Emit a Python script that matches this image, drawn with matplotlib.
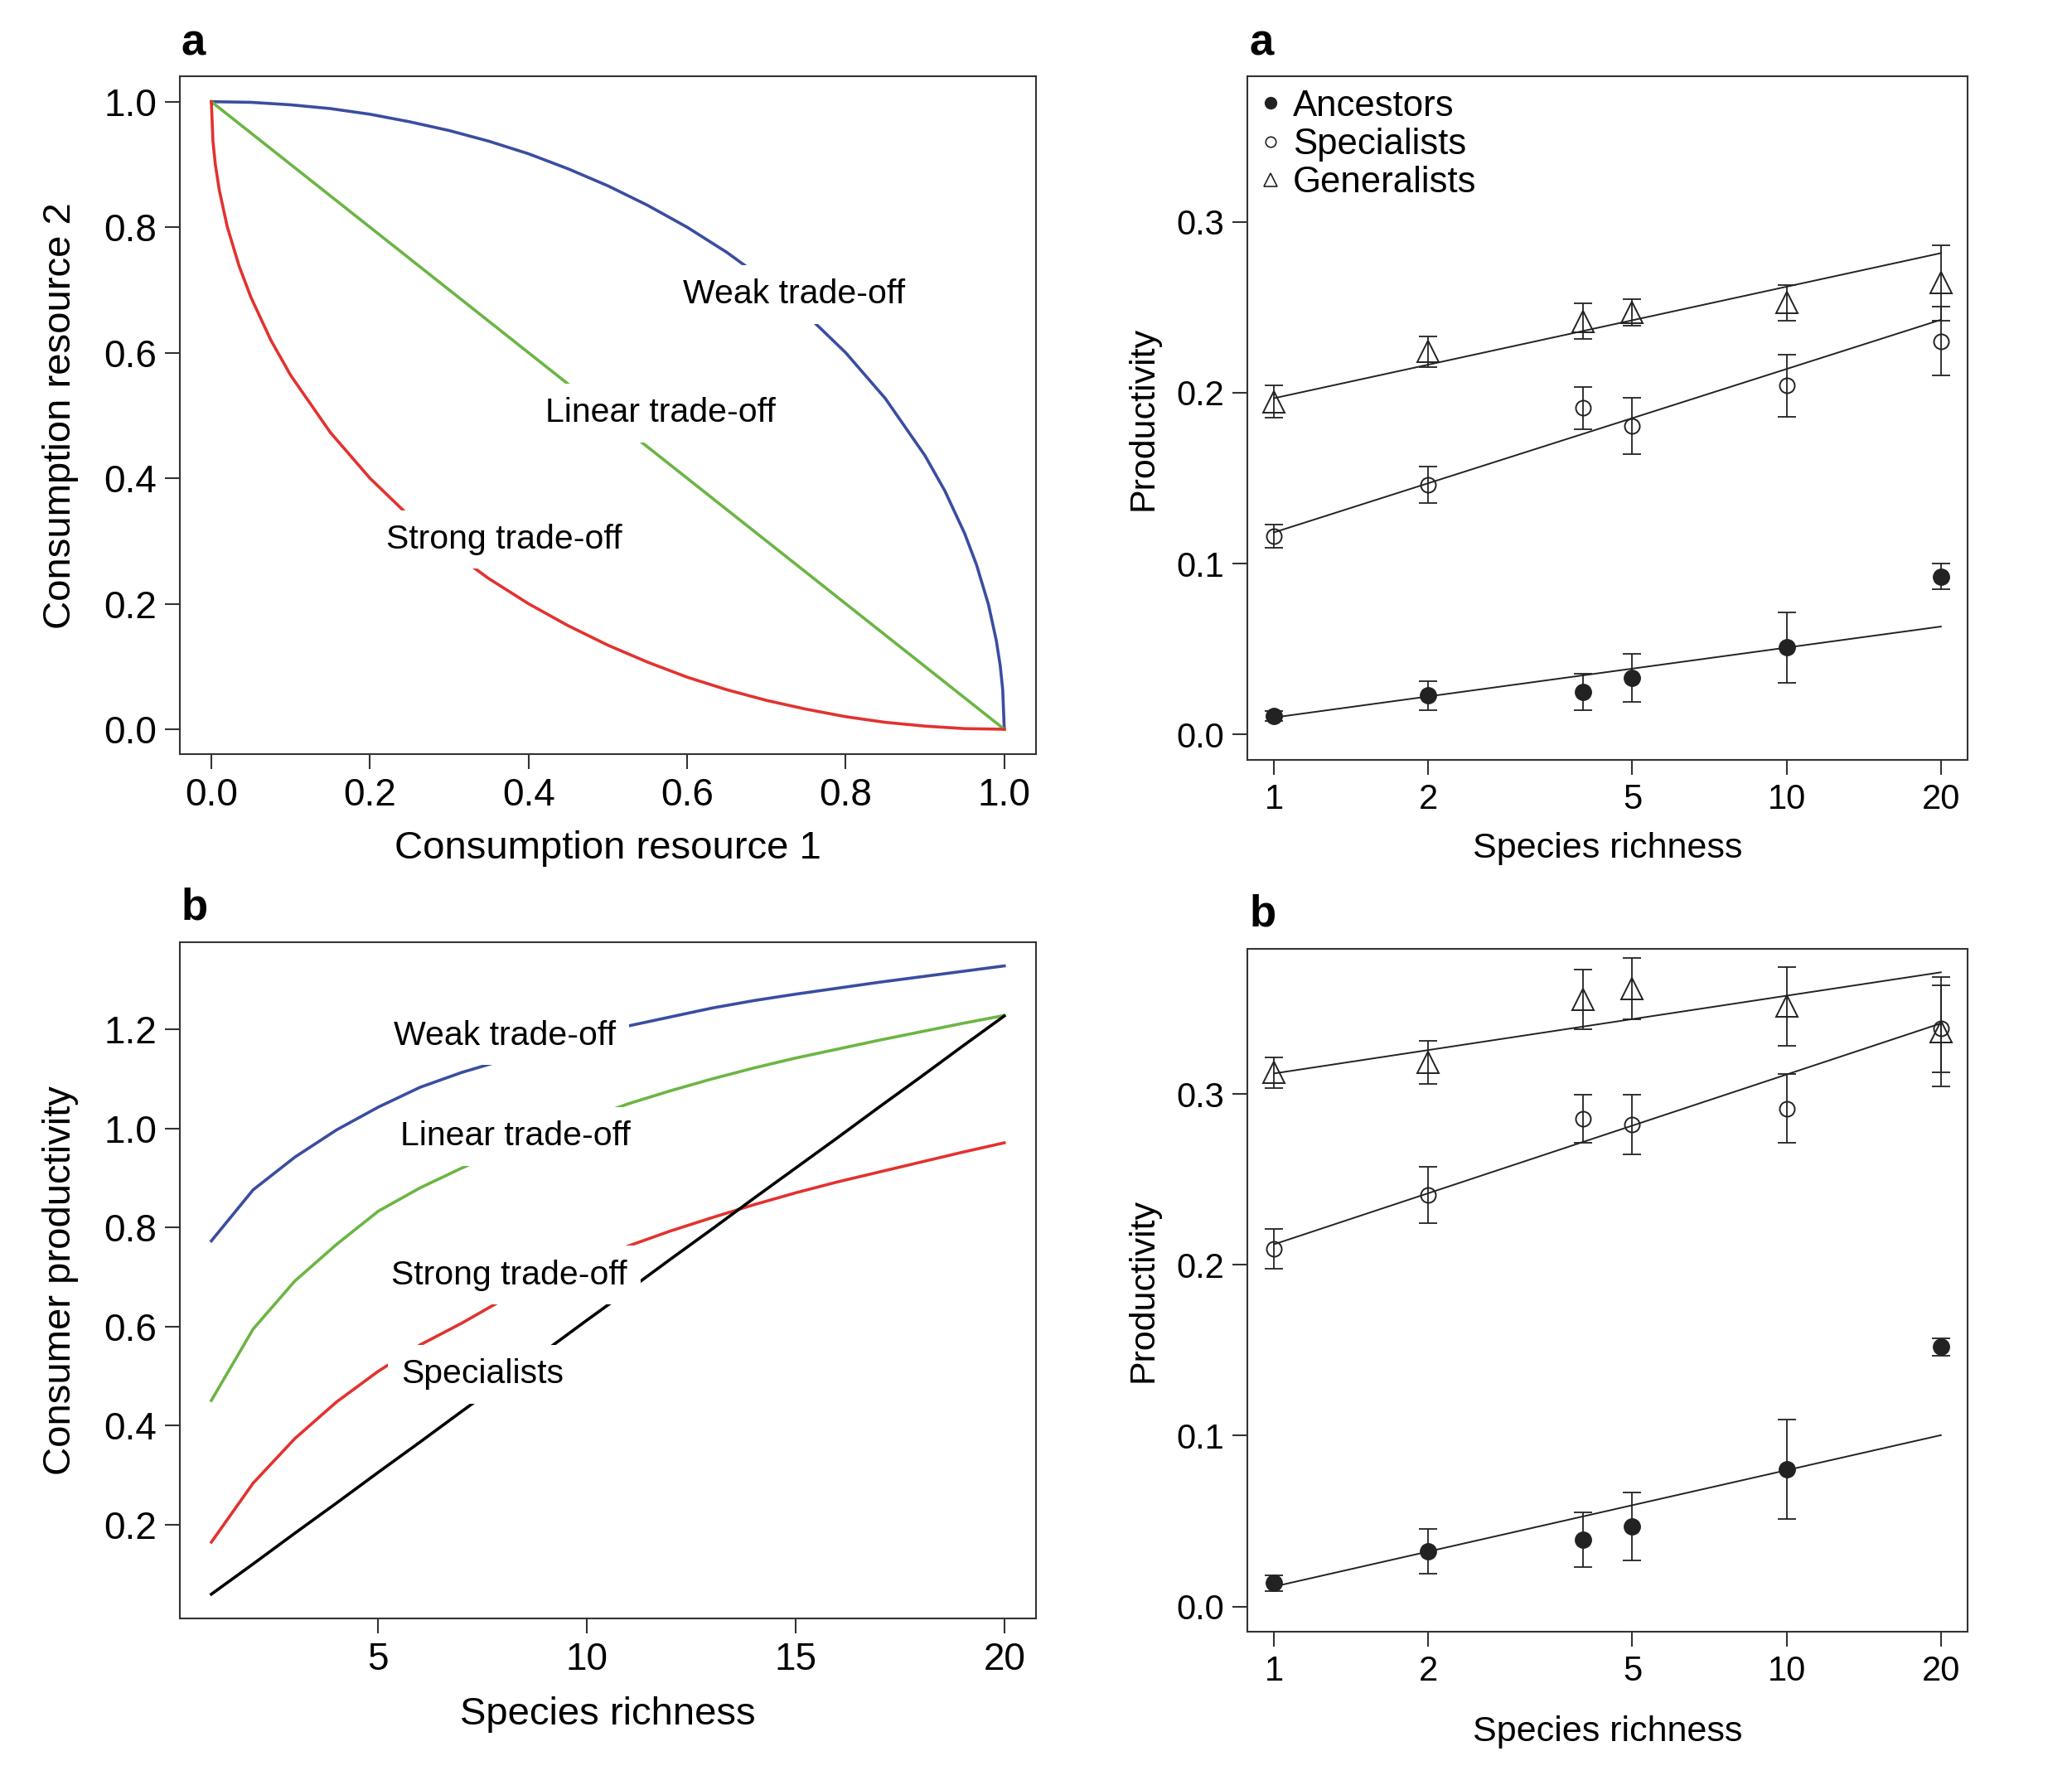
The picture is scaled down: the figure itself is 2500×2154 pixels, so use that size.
import matplotlib
matplotlib.use('Agg')
import matplotlib.pyplot as plt
from matplotlib.lines import Line2D

plt.rcParams['font.family'] = ['Liberation Sans', 'DejaVu Sans']

BLUE = '#3a4da0'
GREEN = '#6cb544'
RED = '#e2322f'
INK = '#222222'

# --- panel a (left): trade-off curves ---
weak_res1 = [0, 0.05, 0.1, 0.15, 0.2, 0.25, 0.3, 0.35, 0.4, 0.45, 0.5, 0.55, 0.6, 0.65,
             0.7, 0.75, 0.8, 0.85, 0.9, 0.925, 0.95, 0.965, 0.98, 0.99, 0.995, 0.998, 1.0]
weak_res2 = [1.0, 0.999, 0.995, 0.989, 0.98, 0.968, 0.954, 0.937, 0.917, 0.893, 0.866, 0.835,
             0.8, 0.76, 0.714, 0.661, 0.6, 0.527, 0.436, 0.38, 0.312, 0.262, 0.199, 0.141,
             0.1, 0.063, 0.0]
strong_res1 = [0, 0.002, 0.005, 0.01, 0.02, 0.035, 0.05, 0.075, 0.1, 0.15, 0.2, 0.25, 0.3,
               0.35, 0.4, 0.45, 0.5, 0.55, 0.6, 0.65, 0.7, 0.75, 0.8, 0.85, 0.9, 0.95, 1.0]
strong_res2 = [1.0, 0.937, 0.9, 0.859, 0.801, 0.738, 0.688, 0.62, 0.564, 0.473, 0.4, 0.339,
               0.286, 0.24, 0.2, 0.165, 0.134, 0.107, 0.083, 0.063, 0.046, 0.032, 0.02,
               0.011, 0.005, 0.001, 0.0]
linear_res1 = [0.0, 1.0]
linear_res2 = [1.0, 0.0]

# --- panel b (left): consumer productivity vs richness ---
richness = list(range(1, 21))
weak_prod = [0.773, 0.876, 0.942, 0.997, 1.043, 1.083, 1.113, 1.138, 1.162, 1.186,
             1.207, 1.225, 1.243, 1.258, 1.271, 1.283, 1.295, 1.306, 1.317, 1.328]
linear_prod = [0.451, 0.595, 0.692, 0.766, 0.833, 0.88, 0.92, 0.958, 0.99, 1.02,
               1.05, 1.076, 1.10, 1.122, 1.142, 1.16, 1.178, 1.195, 1.212, 1.228]
strong_prod = [0.165, 0.284, 0.374, 0.448, 0.51, 0.563, 0.607, 0.655, 0.695, 0.73,
               0.763, 0.793, 0.82, 0.846, 0.87, 0.892, 0.912, 0.932, 0.952, 0.971]
spec_prod = [0.06, 0.121, 0.183, 0.244, 0.306, 0.367, 0.429, 0.49, 0.551, 0.613,
             0.674, 0.736, 0.797, 0.859, 0.92, 0.981, 1.043, 1.104, 1.166, 1.227]

# --- experiments (right) ---
rich_exp = [1, 2, 4, 5, 10, 20]
fit_x = [1, 20]

# panel a (right)
anc_a = [0.011, 0.0228, 0.0248, 0.0331, 0.0509, 0.0924]
anc_a_err = [0.003, 0.0085, 0.0106, 0.014, 0.0207, 0.0075]
spe_a = [0.1161, 0.1461, 0.1912, 0.1806, 0.2043, 0.2302]
spe_a_err = [0.007, 0.0106, 0.0124, 0.0164, 0.0182, 0.02]
gen_a = [0.1948, 0.224, 0.2419, 0.2471, 0.2527, 0.2644]
gen_a_err = [0.0095, 0.009, 0.0105, 0.0078, 0.0105, 0.022]
anc_a_fit = [0.010, 0.0632]
spe_a_fit = [0.1183, 0.2427]
gen_a_fit = [0.1968, 0.2817]

# panel b (right)
anc_b = [0.0137, 0.0322, 0.039, 0.047, 0.0803, 0.1519]
anc_b_err = [0.0045, 0.013, 0.016, 0.020, 0.029, 0.005]
spe_b = [0.2094, 0.241, 0.2855, 0.282, 0.2915, 0.3382]
spe_b_err = [0.0117, 0.0165, 0.0143, 0.0174, 0.02, 0.0254]
gen_b = [0.3125, 0.3185, 0.3553, 0.3618, 0.3513, 0.3362]
gen_b_err = [0.009, 0.0127, 0.0174, 0.018, 0.023, 0.032]
anc_b_fit = [0.0117, 0.1003]
spe_b_fit = [0.212, 0.3413]
gen_b_fit = [0.312, 0.3712]

NOTE_FS = 29.5
CURVE_LW = 2.6


def style(ax, tick_fs):
    for s in ax.spines.values():
        s.set_linewidth(1.5)
        s.set_color('#333333')
    ax.tick_params(direction='out', length=13, width=1.5, color='#333333',
                   labelsize=tick_fs, pad=7)


def note(ax, x, y, s):
    ax.text(x, y, s, fontsize=NOTE_FS, ha='center', va='center', zorder=5,
            bbox=dict(boxstyle='square,pad=0.4', facecolor='white', edgecolor='none'))


fig = plt.figure(figsize=(25, 21.54), dpi=100)
ax1 = fig.add_axes([0.0867, 0.5774, 0.4133, 0.3797])
ax2 = fig.add_axes([0.0867, 0.0933, 0.4133, 0.3789])
ax3 = fig.add_axes([0.602, 0.5744, 0.3476, 0.3827])
ax4 = fig.add_axes([0.602, 0.0859, 0.3476, 0.3826])

# top-left
ax1.plot(weak_res1, weak_res2, color=BLUE, lw=CURVE_LW)
ax1.plot(linear_res1, linear_res2, color=GREEN, lw=CURVE_LW)
ax1.plot(strong_res1, strong_res2, color=RED, lw=CURVE_LW)
note(ax1, 0.735, 0.693, 'Weak trade-off')
note(ax1, 0.566, 0.504, 'Linear trade-off')
note(ax1, 0.369, 0.3025, 'Strong trade-off')
ax1.set_xlim(-0.04, 1.04)
ax1.set_ylim(-0.04, 1.04)
ticks01 = [0.0, 0.2, 0.4, 0.6, 0.8, 1.0]
ax1.set_xticks(ticks01, [f'{t:.1f}' for t in ticks01])
ax1.set_yticks(ticks01, [f'{t:.1f}' for t in ticks01])
ax1.set_xlabel('Consumption resource 1', fontsize=34, labelpad=14)
ax1.set_ylabel('Consumption resource 2', fontsize=34, labelpad=22)
style(ax1, 33)

# bottom-left
ax2.plot(richness, weak_prod, color=BLUE, lw=CURVE_LW)
ax2.plot(richness, linear_prod, color=GREEN, lw=CURVE_LW)
ax2.plot(richness, strong_prod, color=RED, lw=CURVE_LW)
ax2.plot(richness, spec_prod, color='black', lw=CURVE_LW)
note(ax2, 8.03, 1.187, 'Weak trade-off')
note(ax2, 8.29, 0.984, 'Linear trade-off')
note(ax2, 8.13, 0.704, 'Strong trade-off')
note(ax2, 7.5, 0.504, 'Specialists')
ax2.set_xlim(0.24, 20.76)
ax2.set_ylim(0.011, 1.376)
ax2.set_xticks([5, 10, 15, 20])
yt = [0.2, 0.4, 0.6, 0.8, 1.0, 1.2]
ax2.set_yticks(yt, [f'{t:.1f}' for t in yt])
ax2.set_xlabel('Species richness', fontsize=34, labelpad=16)
ax2.set_ylabel('Consumer productivity', fontsize=34, labelpad=22)
style(ax2, 33)


def experiment(ax, anc, anc_err, spe, spe_err, gen, gen_err, anc_fit, spe_fit, gen_fit, xpad):
    for fit in (anc_fit, spe_fit, gen_fit):
        ax.plot(fit_x, fit, color=INK, lw=1.4)
    for vals, err in ((anc, anc_err), (spe, spe_err), (gen, gen_err)):
        ax.errorbar(rich_exp, vals, yerr=err, fmt='none', ecolor=INK,
                    elinewidth=1.3, capsize=8, capthick=1.3)
    ax.plot(rich_exp, anc, 'o', color=INK, ms=14, mec=INK)
    ax.plot(rich_exp, spe, 'o', mfc='none', mec=INK, ms=13, mew=1.4)
    ax.plot(rich_exp, gen, '^', mfc='none', mec=INK, ms=19, mew=1.4)
    ax.set_xscale('log')
    ax.set_xlim(0.887, 22.55)
    ax.set_ylim(-0.0147, 0.385)
    ax.set_xticks([1, 2, 5, 10, 20], ['1', '2', '5', '10', '20'])
    ax.xaxis.set_minor_locator(plt.NullLocator())
    ax.set_yticks([0.0, 0.1, 0.2, 0.3], ['0.0', '0.1', '0.2', '0.3'])
    ax.set_xlabel('Species richness', fontsize=31, labelpad=xpad)
    ax.set_ylabel('Productivity', fontsize=31, labelpad=14)
    style(ax, 30)


experiment(ax3, anc_a, anc_a_err, spe_a, spe_a_err, gen_a, gen_a_err,
           anc_a_fit, spe_a_fit, gen_a_fit, 14)
experiment(ax4, anc_b, anc_b_err, spe_b, spe_b_err, gen_b, gen_b_err,
           anc_b_fit, spe_b_fit, gen_b_fit, 24)

handles = [
    Line2D([], [], ls='none', marker='o', color=INK, ms=10),
    Line2D([], [], ls='none', marker='o', mfc='none', mec=INK, ms=9, mew=1.2),
    Line2D([], [], ls='none', marker='^', mfc='none', mec=INK, ms=11, mew=1.2),
]
ax3.legend(handles, ['Ancestors', 'Specialists', 'Generalists'], loc='upper left',
           frameon=False, fontsize=31.5, handlelength=0.6, handletextpad=0.3,
           labelspacing=0.12, borderaxespad=0.15, borderpad=0.2)

# panel letters
fig.text(0.0874, 0.9756, 'a', fontsize=38, fontweight='bold', va='center')
fig.text(0.603, 0.9756, 'a', fontsize=38, fontweight='bold', va='center')
fig.text(0.0874, 0.4915, 'b', fontsize=38, fontweight='bold', va='center')
fig.text(0.603, 0.4878, 'b', fontsize=38, fontweight='bold', va='center')

fig.savefig('out.png', dpi=100, facecolor='white')
